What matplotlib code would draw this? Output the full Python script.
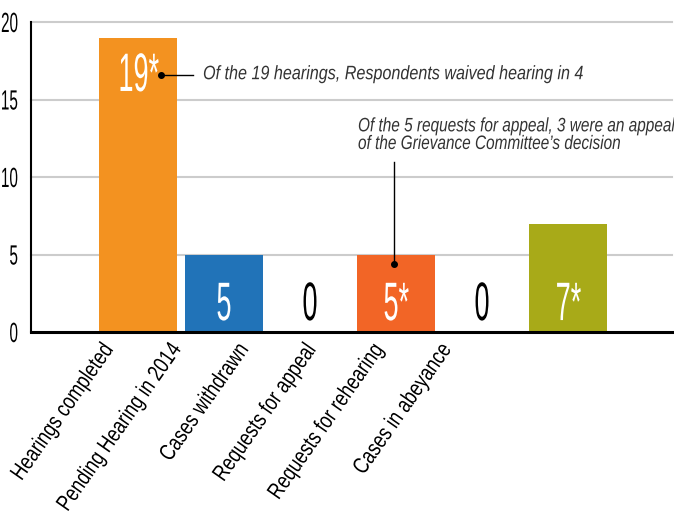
import matplotlib
matplotlib.use("Agg")
import matplotlib.pyplot as plt
from matplotlib.patheffects import AbstractPathEffect
from matplotlib.transforms import Affine2D

categories = [
    "Hearings completed",
    "Pending Hearing in 2014",
    "Cases withdrawn",
    "Requests for appeal",
    "Requests for rehearing",
    "Cases in abeyance",
]
counts = [19, 5, 0, 5, 0, 7]
starred = [True, False, False, True, False, True]
bar_colors = ["#F39220", "#2173B8", "#F39220", "#F26526", "#F26526", "#A8AA18"]

note_hearings = "Of the 19 hearings, Respondents waived hearing in 4"
note_appeal = ("Of the 5 requests for appeal, 3 were an appeal\n"
               "of the Grievance Committee\u2019s decision")

FONT = ["Liberation Sans", "DejaVu Sans"]


class Narrow(AbstractPathEffect):
    """Squeeze text glyphs horizontally along their baseline."""

    def __init__(self, factor, anchor="center"):
        super().__init__()
        self.factor = factor
        self.anchor = anchor

    def draw_path(self, renderer, gc, tpath, affine, rgbFace=None):
        ext = tpath.get_extents()
        if self.anchor == "right":
            cx = ext.x1
        elif self.anchor == "left":
            cx = 0
        else:
            cx = (ext.x0 + ext.x1) / 2
        squeeze = Affine2D().translate(-cx, 0).scale(self.factor, 1).translate(cx, 0)
        renderer.draw_path(gc, tpath, squeeze + affine, rgbFace)


fig = plt.figure(figsize=(6.74, 5.17), dpi=100)
ax = fig.add_axes([31 / 674, 185 / 517, 641 / 674, 310 / 517])

x = list(range(len(counts)))
ax.bar(x, counts, width=0.907, color=bar_colors, zorder=2)

ax.set_xlim(-1.244, 6.209)
ax.set_ylim(0, 20)

for v in [5, 10, 15, 20]:
    ax.axhline(v, color="#cccccc", lw=1.5, zorder=0, clip_on=False)

for side in ["top", "right"]:
    ax.spines[side].set_visible(False)
ax.spines["left"].set_linewidth(1.5)
ax.spines["bottom"].set_linewidth(2.2)
ax.spines["bottom"].set_zorder(3)

# y axis labels
ax.set_yticks([0, 5, 10, 15, 20])
ax.tick_params(axis="y", length=0, pad=9)
for lbl in ax.get_yticklabels():
    lbl.set_fontfamily(FONT)
    lbl.set_fontsize(20)
    lbl.set_path_effects([Narrow(0.55, "right")])

# category labels, spaced a little tighter than the bars
label_pos = [-0.45 + 0.786 * i for i in x]
ax.set_xticks(label_pos)
ax.set_xticklabels(categories)
ax.tick_params(axis="x", length=0, pad=5)
for lbl in ax.get_xticklabels():
    lbl.set_fontfamily(FONT)
    lbl.set_fontsize(16.5)
    lbl.set_rotation(55)
    lbl.set_ha("right")
    lbl.set_rotation_mode("anchor")
    lbl.set_path_effects([Narrow(0.79, "right")])

# value labels inside the bars
for xi, v, star in zip(x, counts, starred):
    txt = f"{v}*" if star else f"{v}"
    y = v - 3.45 if v > 10 else 0.77
    ax.text(xi, y, txt, ha="center", va="baseline", fontsize=39,
            family=FONT, color="white" if v > 0 else "black", zorder=4,
            path_effects=[Narrow(0.5)])

# callout for hearings completed
ax.plot([0.267, 0.64], [16.6, 16.6], color="black", lw=1, zorder=5)
ax.plot(0.267, 16.6, "o", color="black", ms=4, zorder=5)
ax.text(0.756, 16.6, note_hearings, ha="left", va="center", fontsize=14,
        style="italic", family=FONT, color="#333333",
        path_effects=[Narrow(0.83, "left")])

# callout for requests for appeal
ax.plot([2.98, 2.98], [4.4, 10.95], color="black", lw=1, zorder=5)
ax.plot(2.98, 4.4, "o", color="black", ms=4, zorder=5)
ax.text(2.558, 11.55, note_appeal, ha="left", va="bottom", fontsize=14,
        style="italic", family=FONT, color="#333333", linespacing=1.05,
        path_effects=[Narrow(0.79, "left")])

fig.savefig("out.png", dpi=100)
